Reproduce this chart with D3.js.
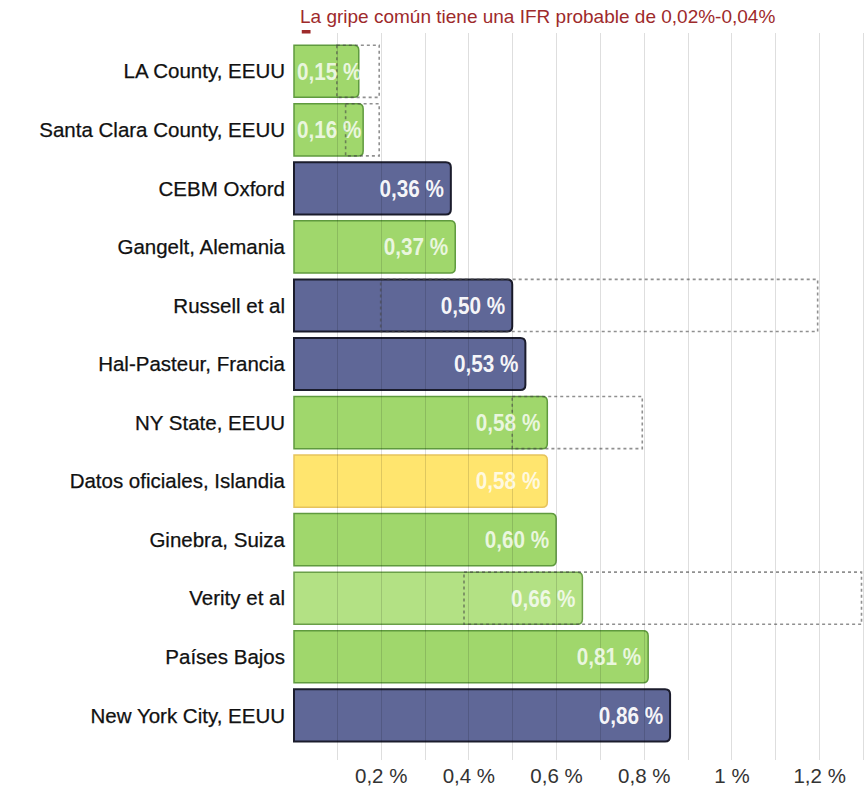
<!DOCTYPE html>
<html lang="es">
<head>
<meta charset="utf-8">
<script src="https://cdn.jsdelivr.net/npm/d3@7"></script>
<style>
  html, body { margin: 0; padding: 0; background: #fff; }
  svg { display: block; }
</style>
</head>
<body>
<svg id="grafico" width="864" height="790"></svg>
<script>
// Estimaciones de la tasa de letalidad por infección (IFR) de la COVID-19
const estudios = [
  "LA County, EEUU",
  "Santa Clara County, EEUU",
  "CEBM Oxford",
  "Gangelt, Alemania",
  "Russell et al",
  "Hal-Pasteur, Francia",
  "NY State, EEUU",
  "Datos oficiales, Islandia",
  "Ginebra, Suiza",
  "Verity et al",
  "Países Bajos",
  "New York City, EEUU"
];
const ifr = [0.15, 0.16, 0.36, 0.37, 0.50, 0.53, 0.58, 0.58, 0.60, 0.66, 0.81, 0.86];
// Tipo de fuente de cada estimación (define el color de la barra)
const tipo = ["sero", "sero", "modelo", "sero", "modelo", "modelo", "sero", "oficial", "sero", "sero-claro", "sero", "modelo"];
// Intervalo de la estimación (null si no se publica)
const rangoInf = [0.10, 0.12, null, null, 0.20, null, 0.50, null, null, 0.39, null, null];
const rangoSup = [0.20, 0.20, null, null, 1.20, null, 0.80, null, null, 1.33, null, null];
// Gripe común
const gripeInf = 0.02;
const gripeSup = 0.04;
const titulo = "La gripe común tiene una IFR probable de 0,02%-0,04%";
const marcasEje = [0.2, 0.4, 0.6, 0.8, 1.0, 1.2];

const colores = {
  "sero":       { fill: "#a0d76c", stroke: "#5f9a3e", texto: 0.78 },
  "sero-claro": { fill: "#b3e184", stroke: "#6a9f48", texto: 0.78 },
  "modelo":     { fill: "#5f6797", stroke: "#1b1c2c", texto: 0.95 },
  "oficial":    { fill: "#ffe56e", stroke: "#e6c35c", texto: 0.78 }
};

const svg = d3.select("#grafico");
const izq = 293, der = 863;

const x = d3.scaleLinear().domain([0, 1.3]).range([izq, der]).clamp(true);
const y = d3.scaleBand().domain(estudios).range([42, 744.6])
  .paddingInner(0.11).paddingOuter(0.055);

const es = d3.formatLocale({ decimal: ",", thousands: ".", grouping: [3], currency: ["", " €"] });
const fmtEje = es.format("~r");
const fmtValor = es.format(".2f");

// Título y marca de la gripe común
svg.append("text")
  .attr("x", 300).attr("y", 23)
  .attr("font-family", "Liberation Sans, Arial, Helvetica, sans-serif")
  .attr("font-size", 19)
  .attr("fill", "#9e2a2b")
  .text(titulo);

svg.append("rect")
  .attr("x", x(gripeInf)).attr("y", 30)
  .attr("width", x(gripeSup) - x(gripeInf)).attr("height", 3.5)
  .attr("fill", "#9e2a2b");

// Barras con esquinas redondeadas a la derecha
const r = 5;
function barra(x0, x1, y0, h) {
  return `M${x0},${y0}H${x1 - r}Q${x1},${y0} ${x1},${y0 + r}V${y0 + h - r}Q${x1},${y0 + h} ${x1 - r},${y0 + h}H${x0}Z`;
}

const filas = estudios.map((d, i) => ({
  nombre: d, valor: ifr[i], tipo: tipo[i], inf: rangoInf[i], sup: rangoSup[i]
}));

svg.append("g").selectAll("path")
  .data(filas)
  .join("path")
  .attr("d", d => barra(x(0) + 1, x(d.valor), y(d.nombre), y.bandwidth()))
  .attr("fill", d => colores[d.tipo].fill)
  .attr("stroke", d => colores[d.tipo].stroke)
  .attr("stroke-width", d => d.tipo === "modelo" ? 2 : 1.5);

// Rejilla vertical cada 0,1 %
svg.append("g").selectAll("line")
  .data(x.ticks(13).filter(t => t > 0))
  .join("line")
  .attr("x1", d => Math.round(x(d)) + 0.5).attr("x2", d => Math.round(x(d)) + 0.5)
  .attr("y1", 33).attr("y2", 760)
  .attr("stroke", "rgba(0,0,0,0.13)")
  .attr("stroke-width", 1);

// Intervalos de estimación (recuadros discontinuos)
const conRango = filas.filter(d => d.inf !== null);
const gR = svg.append("g")
  .attr("fill", "none")
  .attr("stroke", "rgba(70,70,70,0.6)")
  .attr("stroke-width", 1.6)
  .attr("stroke-dasharray", "3,3");

gR.selectAll("rect")
  .data(conRango)
  .join("rect")
  .attr("x", d => x(d.inf))
  .attr("y", d => y(d.nombre))
  .attr("width", d => x(d.sup) - x(d.inf) - 1.5)
  .attr("height", y.bandwidth());

// Etiquetas de categoría
svg.append("g").selectAll("text")
  .data(filas)
  .join("text")
  .attr("x", 285)
  .attr("y", d => y(d.nombre) + y.bandwidth() / 2)
  .attr("dy", "0.35em")
  .attr("text-anchor", "end")
  .attr("font-family", "Liberation Sans, Arial, Helvetica, sans-serif")
  .attr("font-size", 20.5)
  .attr("fill", "#111")
  .attr("stroke", "#111")
  .attr("stroke-width", 0.25)
  .text(d => d.nombre);

// Valores dentro de las barras (tipografía estrechada)
const valores = svg.append("g").selectAll("text")
  .data(filas)
  .join("text")
  .attr("y", d => y(d.nombre) + y.bandwidth() / 2)
  .attr("dy", "0.36em")
  .attr("text-anchor", "start")
  .attr("font-family", "Liberation Sans, Arial, Helvetica, sans-serif")
  .attr("font-weight", "bold")
  .attr("font-size", 23)
  .attr("fill", "#fff")
  .attr("fill-opacity", d => colores[d.tipo].texto)
  .text(d => fmtValor(d.valor) + " %");

valores.each(function(d) {
  const w = this.getComputedTextLength() * 0.9;
  const xs = Math.max(x(d.valor) - 7 - w, x(0) + 4);
  d3.select(this)
    .attr("x", xs)
    .attr("textLength", w)
    .attr("lengthAdjust", "spacingAndGlyphs");
});

// Eje inferior
const eje = svg.append("g")
  .attr("transform", "translate(0,776)")
  .call(d3.axisBottom(x).tickValues(marcasEje).tickSize(0).tickFormat(d => fmtEje(d) + " %"));
eje.select(".domain").remove();
eje.selectAll("text")
  .attr("y", 0)
  .attr("dy", "0.36em")
  .attr("font-family", "Liberation Sans, Arial, Helvetica, sans-serif")
  .attr("font-size", 20.5)
  .attr("fill", "#333");
</script>
</body>
</html>
